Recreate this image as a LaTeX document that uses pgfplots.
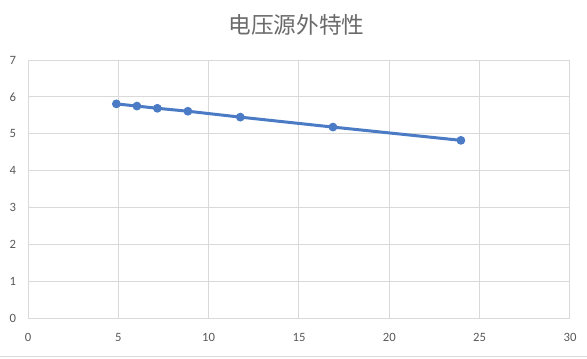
\documentclass[border=0pt]{standalone}
\usepackage{pgfplots}
\pgfplotsset{compat=1.18}
\usepackage{fontspec}
\setmainfont{Carlito}
\newfontfamily\cjk{Noto Sans CJK SC}
\definecolor{gridgray}{HTML}{D9D9D9}
\definecolor{txtgray}{HTML}{595959}
\definecolor{serblue}{HTML}{4A7BC4}
\begin{document}
\begin{tikzpicture}
\path[use as bounding box] (0,0) rectangle (440.25pt,268.5pt);
\draw[gridgray,line width=0.75pt] (0,1.2pt) -- (440.25pt,1.2pt);
\begin{axis}[
  at={(21pt,30pt)}, anchor=south west,
  scale only axis, width=406.5pt, height=193.5pt,
  xmin=0, xmax=30, ymin=0, ymax=7,
  xtick={0,5,...,30}, ytick={0,1,...,7},
  grid=major,
  grid style={gridgray, line width=0.75pt},
  axis line style={gridgray, line width=0.75pt},
  major tick length=0pt,
  tick style={draw=none},
  ticklabel style={font=\fontsize{9.5}{11}\selectfont, text=txtgray},
  xticklabel style={yshift=-8pt},
  yticklabel style={xshift=-5.5pt},
  /pgf/number format/assume math mode=true,
]
\addplot[serblue, line width=2.25pt, mark=*, mark size=2.9pt, mark options={fill=serblue, draw=serblue, line width=0.75pt}]
coordinates {(4.89,5.81) (6.03,5.75) (7.16,5.69) (8.85,5.61) (11.75,5.45) (16.88,5.18) (23.96,4.82)};
\end{axis}
\node[text=txtgray!90, font=\cjk\fontsize{17}{19}\selectfont] at (222.4pt,249.75pt) {电压源外特性};
\end{tikzpicture}
\end{document}
